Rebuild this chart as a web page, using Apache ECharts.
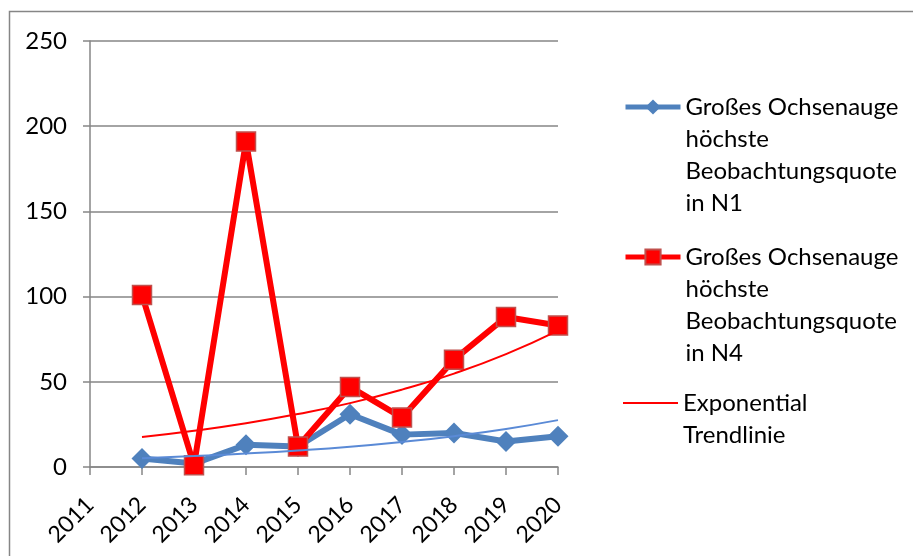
<!DOCTYPE html>
<html>
<head>
<meta charset="utf-8">
<script src="https://cdn.jsdelivr.net/npm/echarts@6/dist/echarts.min.js"></script>
<style>
    html, body { margin: 0; padding: 0; background: #fff; }
    #chart { width: 913px; height: 556px; }
</style>
</head>
<body>
<div id="chart"></div>
<script>
// Jahre auf der x-Achse
let years = ['2011', '2012', '2013', '2014', '2015', '2016', '2017', '2018', '2019', '2020'];
let quoteN1 = [null, 5, 2, 13, 12, 31, 19, 20, 15, 18];
let quoteN4 = [null, 101, 1, 191, 12, 47, 29, 63, 88, 83];
// exponentielle Trendlinien
let trendN1 = [null, 5.2, 6.4, 7.9, 9.7, 11.9, 14.7, 18.1, 22.3, 27.5];
let trendN4 = [null, 17.6, 21.3, 25.7, 31.1, 37.5, 45.4, 54.8, 66.2, 80];
let yTicks = [0, 50, 100, 150, 200, 250];

let nameN1 = 'Großes Ochsenauge höchste Beobachtungsquote in N1';
let nameN4 = 'Großes Ochsenauge höchste Beobachtungsquote in N4';
let nameTrend = 'Exponential Trendlinie';
let legendLines = {};
legendLines[nameN1] = ['Großes Ochsenauge', 'höchste', 'Beobachtungsquote', 'in N1'];
legendLines[nameN4] = ['Großes Ochsenauge', 'höchste', 'Beobachtungsquote', 'in N4'];
legendLines[nameTrend] = ['Exponential', 'Trendlinie'];

let fontName = 'Lato';
let lineH = 32;
let gray = '#868686';

// Legende: Symbol auf Höhe der ersten Zeile (leere Zeilen davor)
function makeLegend(name, centerY, extra) {
    let n = legendLines[name].length;
    let legend = {
        data: [name],
        orient: 'vertical',
        left: 623,
        top: centerY - (2 * n - 1) * lineH / 2,
        padding: 0,
        itemWidth: 55,
        itemHeight: 19,
        selectedMode: false,
        formatter: function (nm) {
            let lines = legendLines[nm];
            return '\n'.repeat(lines.length - 1) + lines.join('\n');
        },
        textStyle: {
            fontFamily: fontName,
            fontSize: 24,
            color: '#000',
            lineHeight: lineH
        }
    };
    return Object.assign(legend, extra || {});
}

let chart = echarts.init(document.getElementById('chart'));
chart.setOption({
    animation: false,
    textStyle: { fontFamily: fontName },
    graphic: [{
        type: 'rect',
        shape: { x: 9.5, y: 11.5, width: 1000, height: 1000 },
        style: { fill: 'none', stroke: gray, lineWidth: 1.5 },
        silent: true
    }],
    grid: {
        left: 90,
        right: 355,
        top: 41,
        bottom: 89,
        outerBoundsMode: 'none'
    },
    legend: [
        makeLegend(nameN1, 107, {
            lineStyle: { width: 5 }
        }),
        makeLegend(nameN4, 257, {
            lineStyle: { width: 5 }
        }),
        makeLegend(nameTrend, 403, {
            data: [{ name: nameTrend, icon: 'rect' }],
            itemHeight: 2
        })
    ],
    xAxis: {
        type: 'category',
        data: years,
        boundaryGap: false,
        axisLine: { lineStyle: { color: gray, width: 1.5 } },
        axisTick: { show: true, length: 8, lineStyle: { color: gray, width: 1.5 } },
        axisLabel: {
            rotate: 45,
            margin: 34,
            fontSize: 23,
            color: '#000',
            fontFamily: fontName,
            interval: 0
        },
        splitLine: { show: false }
    },
    yAxis: {
        type: 'value',
        min: yTicks[0],
        max: yTicks[yTicks.length - 1],
        interval: 50,
        axisLine: { show: true, lineStyle: { color: gray, width: 1.5 } },
        axisTick: { show: true, length: 7, lineStyle: { color: gray, width: 1.5 } },
        axisLabel: {
            margin: 23,
            fontSize: 24,
            color: '#000',
            fontFamily: fontName
        },
        splitLine: { lineStyle: { color: gray, width: 1.5 } }
    },
    series: [
        {
            name: nameN1,
            type: 'line',
            data: quoteN1,
            symbol: 'diamond',
            symbolSize: 21,
            lineStyle: { color: '#4F81BD', width: 6 },
            itemStyle: { color: '#4F81BD' },
            z: 3
        },
        {
            name: nameN4,
            type: 'line',
            data: quoteN4,
            symbol: 'rect',
            symbolSize: 19,
            lineStyle: { color: '#FF0000', width: 6 },
            itemStyle: { color: '#FF0000', borderColor: '#C0504D', borderWidth: 1.5 },
            z: 4
        },
        {
            name: nameTrend,
            type: 'line',
            data: trendN4,
            smooth: true,
            symbol: 'none',
            lineStyle: { color: '#FF0000', width: 2 },
            itemStyle: { color: '#FF0000' },
            z: 5
        },
        {
            name: 'Exponential Trendlinie N1',
            type: 'line',
            data: trendN1,
            smooth: true,
            symbol: 'none',
            lineStyle: { color: '#5A8AD6', width: 2 },
            itemStyle: { color: '#5A8AD6' },
            z: 5
        }
    ]
});
</script>
</body>
</html>
